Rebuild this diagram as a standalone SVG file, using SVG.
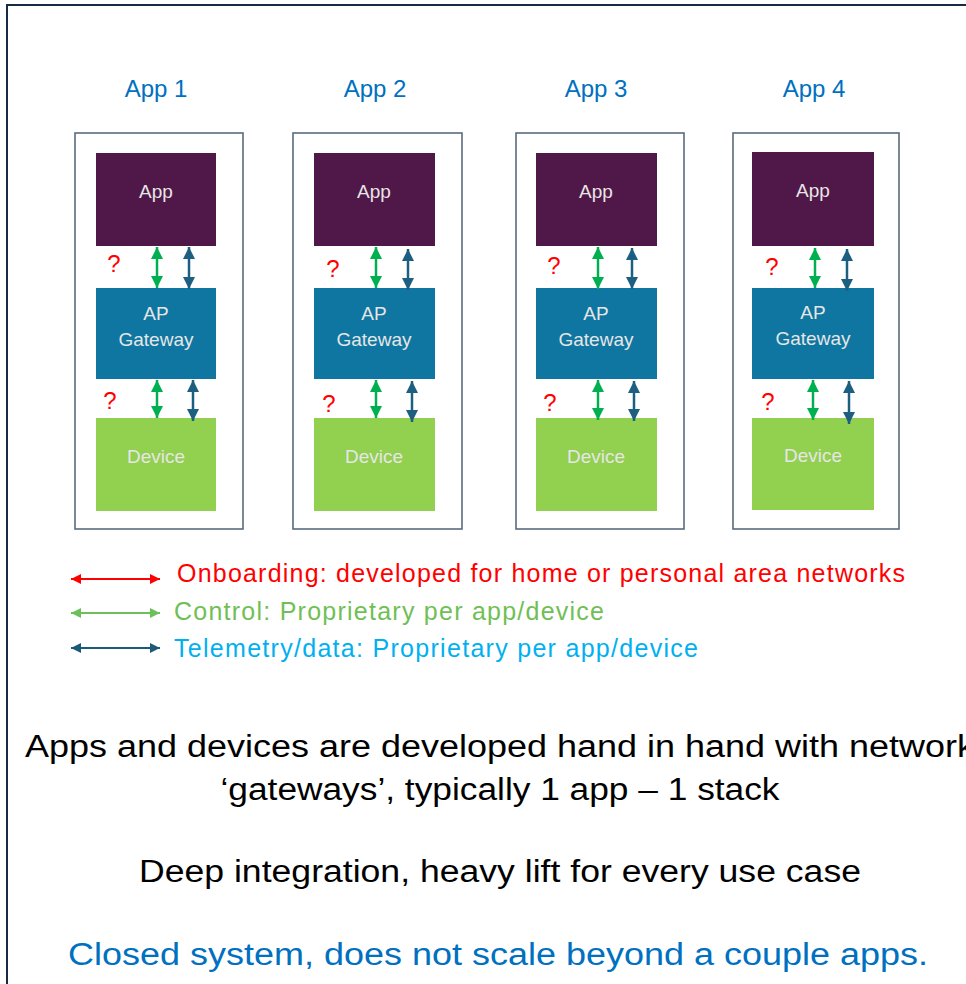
<svg xmlns="http://www.w3.org/2000/svg" width="966" height="984" viewBox="0 0 966 984">
<style>
.frame{fill:none;stroke:#172b45;stroke-width:2}
.stack{fill:#fff;stroke:#5a6b7d;stroke-width:1.6}
.app{fill:#501848}
.gw{fill:#0e76a0}
.dev{fill:#92d050}
.lbl{font-family:"Liberation Sans",Arial,sans-serif;font-size:19px;fill:#e6e6e6;text-anchor:middle}
.title{font-family:"Liberation Sans",Arial,sans-serif;font-size:24px;fill:#0070c0;text-anchor:middle}
.q{font-family:"Liberation Sans",Arial,sans-serif;font-size:24px;fill:#ff0000;text-anchor:middle}
.g{stroke:#00b050;stroke-width:2.5;fill:none;marker-start:url(#hg);marker-end:url(#hg)}
.b{stroke:#1d5f80;stroke-width:2.5;fill:none;marker-start:url(#hb);marker-end:url(#hb)}
.lr{stroke:#ff0000;stroke-width:2.2;marker-start:url(#lr);marker-end:url(#lr)}
.lg{stroke:#6cc05a;stroke-width:2.2;marker-start:url(#lg);marker-end:url(#lg)}
.lb{stroke:#1d5a78;stroke-width:2.2;marker-start:url(#lb);marker-end:url(#lb)}
.leg{font-family:"Liberation Sans",Arial,sans-serif;font-size:25px}
.big{font-family:"Liberation Sans",Arial,sans-serif;font-size:31px;text-anchor:middle}
.blk{fill:#000}
.blu{fill:#0070c0}
</style>
<defs>
<marker id="hg" markerUnits="userSpaceOnUse" markerWidth="12" markerHeight="12" refX="10" refY="5" orient="auto-start-reverse" viewBox="0 0 10 10"><path d="M0,0L10,5L0,10z" fill="#00b050"/></marker>
<marker id="hb" markerUnits="userSpaceOnUse" markerWidth="12" markerHeight="12" refX="10" refY="5" orient="auto-start-reverse" viewBox="0 0 10 10"><path d="M0,0L10,5L0,10z" fill="#1d5f80"/></marker>
<marker id="lr" markerUnits="userSpaceOnUse" markerWidth="11" markerHeight="10" refX="10" refY="5" orient="auto-start-reverse" viewBox="0 0 10 10"><path d="M0,0L10,5L0,10z" fill="#ff0000"/></marker>
<marker id="lg" markerUnits="userSpaceOnUse" markerWidth="11" markerHeight="10" refX="10" refY="5" orient="auto-start-reverse" viewBox="0 0 10 10"><path d="M0,0L10,5L0,10z" fill="#6cc05a"/></marker>
<marker id="lb" markerUnits="userSpaceOnUse" markerWidth="11" markerHeight="10" refX="10" refY="5" orient="auto-start-reverse" viewBox="0 0 10 10"><path d="M0,0L10,5L0,10z" fill="#1d5a78"/></marker>
</defs>
<rect width="966" height="984" fill="#fff"/>
<rect class="frame" x="7" y="5" width="990" height="1000"/>

<g id="col1">
<text class="title" x="156" y="97">App 1</text>
<rect class="stack" x="75" y="133" width="168" height="396"/>
<g id="app1"><rect class="app" x="96" y="153" width="120" height="93"/><text class="lbl" x="156" y="198">App</text></g>
<g id="gw1"><rect class="gw" x="96" y="288" width="120" height="91"/><text class="lbl" x="156" y="320">AP</text><text class="lbl" x="156" y="346">Gateway</text></g>
<g id="dev1"><rect class="dev" x="96" y="418" width="120" height="93"/><text class="lbl" x="156" y="463">Device</text></g>
<text class="q" x="114" y="272">?</text>
<text class="q" x="110" y="409">?</text>
</g>

<g id="col2">
<text class="title" x="375" y="97">App 2</text>
<rect class="stack" x="293" y="133" width="169" height="396"/>
<g id="app2"><rect class="app" x="314" y="153" width="121" height="93"/><text class="lbl" x="374" y="198">App</text></g>
<g id="gw2"><rect class="gw" x="314" y="288" width="121" height="91"/><text class="lbl" x="374" y="320">AP</text><text class="lbl" x="374" y="346">Gateway</text></g>
<g id="dev2"><rect class="dev" x="314" y="418" width="121" height="93"/><text class="lbl" x="374" y="463">Device</text></g>
<text class="q" x="333" y="277">?</text>
<text class="q" x="329" y="412">?</text>
</g>

<g id="col3">
<text class="title" x="596" y="97">App 3</text>
<rect class="stack" x="516" y="133" width="168" height="396"/>
<g id="app3"><rect class="app" x="536" y="153" width="121" height="93"/><text class="lbl" x="596" y="198">App</text></g>
<g id="gw3"><rect class="gw" x="536" y="288" width="121" height="91"/><text class="lbl" x="596" y="320">AP</text><text class="lbl" x="596" y="346">Gateway</text></g>
<g id="dev3"><rect class="dev" x="536" y="418" width="121" height="93"/><text class="lbl" x="596" y="463">Device</text></g>
<text class="q" x="554" y="274">?</text>
<text class="q" x="550" y="411">?</text>
</g>

<g id="col4">
<text class="title" x="814" y="97">App 4</text>
<rect class="stack" x="733" y="133" width="166" height="396"/>
<g id="app4"><rect class="app" x="752" y="152" width="122" height="94"/><text class="lbl" x="813" y="197">App</text></g>
<g id="gw4"><rect class="gw" x="752" y="288" width="122" height="91"/><text class="lbl" x="813" y="319">AP</text><text class="lbl" x="813" y="345">Gateway</text></g>
<g id="dev4"><rect class="dev" x="752" y="418" width="122" height="92"/><text class="lbl" x="813" y="462">Device</text></g>
<text class="q" x="772" y="275">?</text>
<text class="q" x="768" y="410">?</text>
</g>

<g id="connectors">
<line class="g" x1="157" y1="247" x2="157" y2="288"/>
<line class="b" x1="189" y1="247" x2="189" y2="289"/>
<line class="g" x1="157" y1="380" x2="157" y2="418"/>
<line class="b" x1="193" y1="380" x2="193" y2="421"/>

<line class="g" x1="376" y1="247" x2="376" y2="288"/>
<line class="b" x1="408" y1="249" x2="408" y2="290"/>
<line class="g" x1="376" y1="380" x2="376" y2="418"/>
<line class="b" x1="412" y1="381" x2="412" y2="422"/>

<line class="g" x1="598" y1="247" x2="598" y2="289"/>
<line class="b" x1="632" y1="248" x2="632" y2="289"/>
<line class="g" x1="598" y1="380" x2="598" y2="420"/>
<line class="b" x1="634" y1="381" x2="634" y2="421"/>

<line class="g" x1="815" y1="248" x2="815" y2="288"/>
<line class="b" x1="847" y1="249" x2="847" y2="291"/>
<line class="g" x1="813" y1="380" x2="813" y2="420"/>
<line class="b" x1="849" y1="381" x2="849" y2="424"/>
</g>

<g id="legend">
<line class="lr" x1="71" y1="579" x2="160" y2="579"/>
<line class="lg" x1="71" y1="613" x2="160" y2="613"/>
<line class="lb" x1="71" y1="648" x2="160" y2="648"/>
<text class="leg" x="177" y="582" fill="#ff0000" textLength="728" lengthAdjust="spacing">Onboarding: developed for home or personal area networks</text>
<text class="leg" x="174" y="620" fill="#70bf55" textLength="430" lengthAdjust="spacing">Control: Proprietary per app/device</text>
<text class="leg" x="174" y="657" fill="#00b0f0" textLength="524" lengthAdjust="spacing">Telemetry/data: Proprietary per app/device</text>
</g>

<g id="notes">
<text class="big blk" x="500" y="757" textLength="950" lengthAdjust="spacingAndGlyphs">Apps and devices are developed hand in hand with network</text>
<text class="big blk" x="500" y="800" textLength="559" lengthAdjust="spacingAndGlyphs">‘gateways’, typically 1 app – 1 stack</text>
<text class="big blk" x="500" y="882" textLength="722" lengthAdjust="spacingAndGlyphs">Deep integration, heavy lift for every use case</text>
<text class="big blu" x="498" y="965" textLength="860" lengthAdjust="spacingAndGlyphs">Closed system, does not scale beyond a couple apps.</text>
</g>
</svg>
